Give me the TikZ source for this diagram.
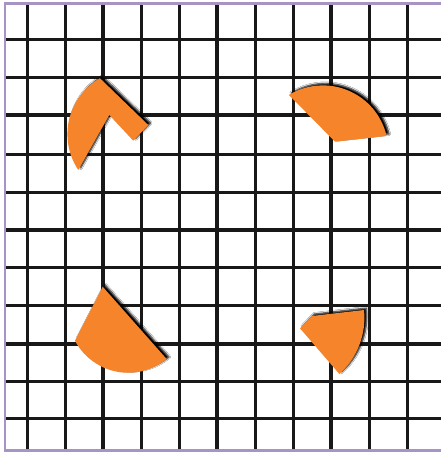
\documentclass[tikz,border=0pt]{standalone}
\usetikzlibrary{shadows.blur}
\definecolor{gridink}{RGB}{24,24,24}
\definecolor{framecol}{RGB}{168,148,196}
\definecolor{piececol}{RGB}{245,132,42}
\begin{document}
\begin{tikzpicture}[x=1pt,y=-1pt,
  thinline/.style={draw=gridink,line width=3pt},
  thickline/.style={draw=gridink,line width=4.5pt},
  border/.style={draw=framecol,line width=2.2pt},
  sector/.style={fill=piececol,
    blur shadow={shadow xshift=2.5pt, shadow yshift=2pt,
      shadow blur steps=5, shadow blur radius=1.6pt, shadow opacity=100}}]
\useasboundingbox[fill=white] (0,0) rectangle (441,453);
% vertical grid lines
\foreach \x in {27,65,141,179,255,293,369,407}
  \draw[thinline] (\x,4) -- (\x,451);
\foreach \x in {103,217,331}
  \draw[thickline] (\x,4) -- (\x,451);
% horizontal grid lines
\foreach \y in {39,77,154,192,267,305,381,418}
  \draw[thinline] (5,\y) -- (441,\y);
\foreach \y in {115,230,344}
  \draw[thickline] (5,\y) -- (441,\y);
% frame
\draw[border] (441,3.5) -- (5,3.5) -- (5,450.5) -- (441,450.5);
% shape 1 (top left)
\fill[sector] (100,78.3) -- (148.3,125) -- (133.3,140.7) -- (109.3,115)
  -- (78.3,170) arc[start angle=146.2, end angle=240.1, radius=64.4] -- cycle;
% shape 2 (top right)
\fill[sector] (335,141.7) -- (288.9,94.9)
  arc[start angle=-121.3, end angle=-13.1, radius=65.4] -- cycle;
% shape 3 (bottom left)
\fill[sector] (102.7,286.7) -- (75,340.7)
  arc[start angle=152.1, end angle=50.5, radius=60.3] -- cycle;
% shape 4 (bottom right)
\fill[sector] (300,328.3) -- (311.7,316) -- (364,310)
  arc[start angle=-6, end angle=48.2, radius=75.2] -- cycle;
\end{tikzpicture}
\end{document}
